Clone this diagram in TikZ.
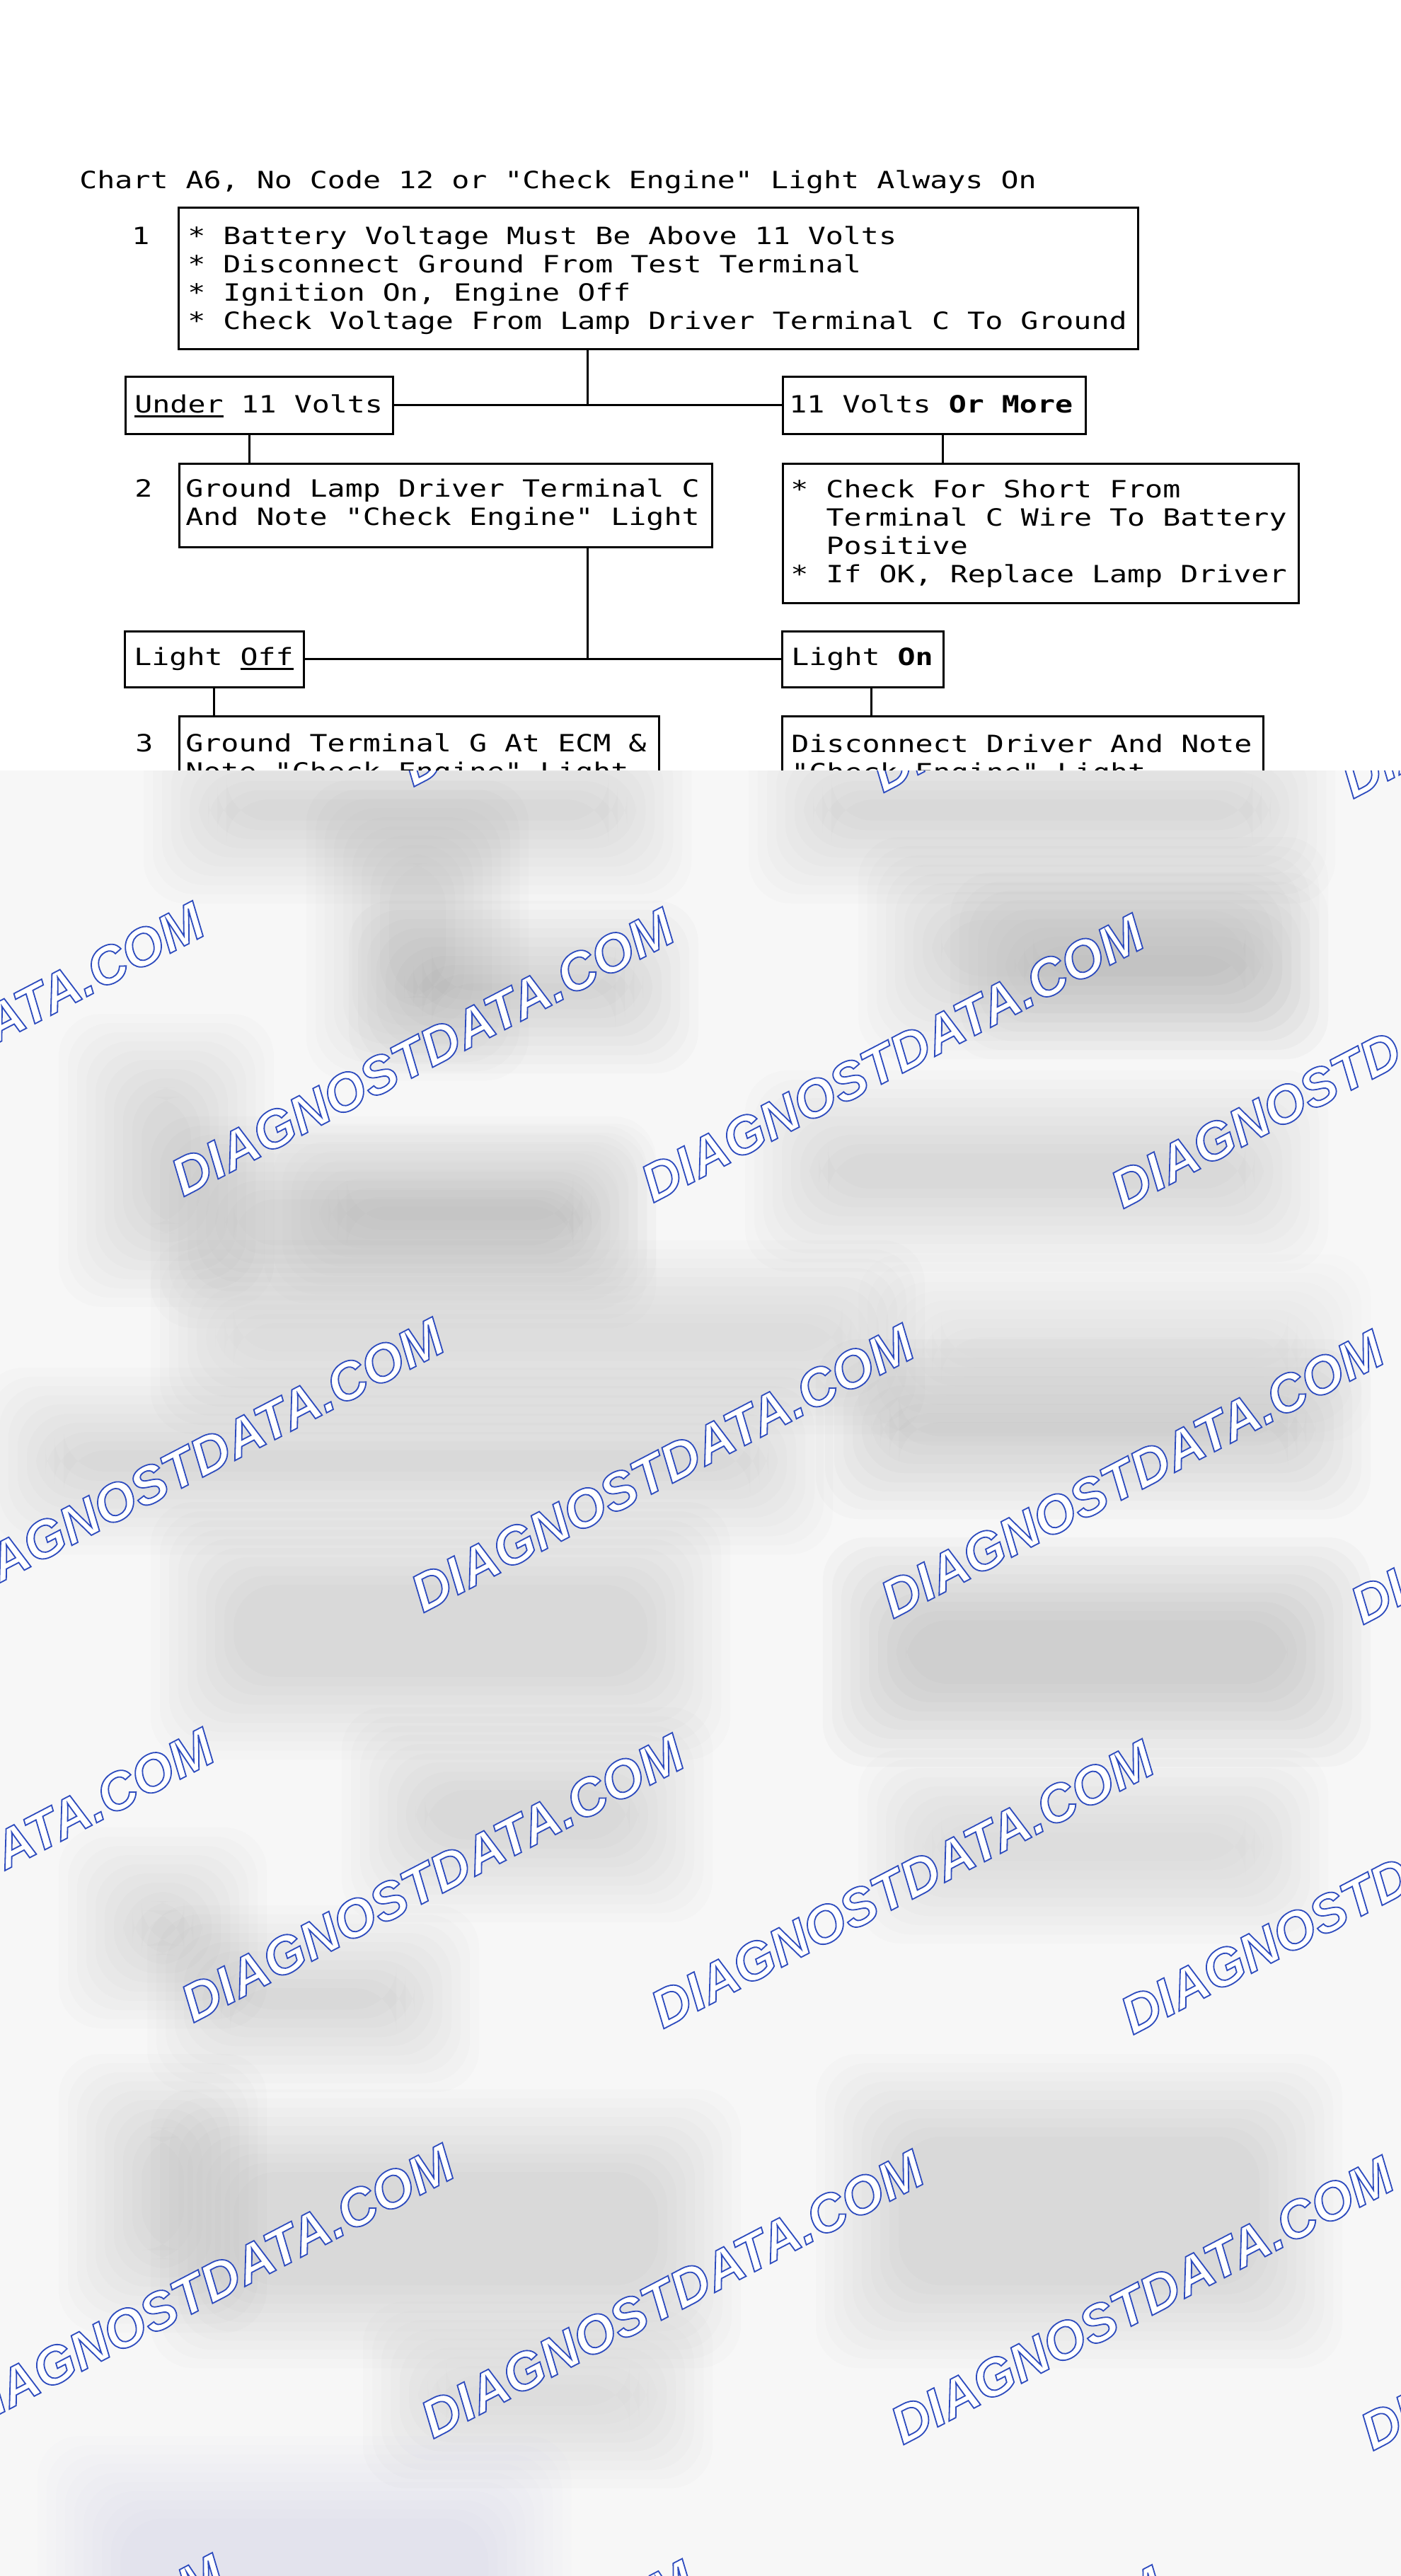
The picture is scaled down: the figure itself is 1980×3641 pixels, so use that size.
\documentclass[tikz,border=0pt]{standalone}
\usepackage{fontspec}
\newfontfamily\mono[FakeStretch=1.238]{DejaVu Sans Mono}
\newfontfamily\wmfont{Liberation Sans}
\definecolor{wmblue}{RGB}{45,75,190}
\definecolor{basegray}{RGB}{247,247,247}
\definecolor{blobblue}{RGB}{150,175,235}
\newsavebox\ulbox
\newcommand\ulin[1]{\sbox\ulbox{#1}\rlap{\rule[-3.3pt]{\wd\ulbox}{1.5pt}}\usebox\ulbox}
\newcommand\outl[1]{\special{pdf:literal direct 1 Tr 0.9 w}#1\special{pdf:literal direct 0 Tr}}
\newcommand\blurbox[5]{%
  \foreach \k in {0,...,9}{%
    \fill[gray, opacity=#5, rounded corners=30pt] ({#1-\k*13},{#2-\k*13}) rectangle ({#3+\k*13},{#4+\k*13});
  }}
\tikzset{
  box/.style={draw=black, line width=1.5pt, inner sep=0pt, rectangle},
  link/.style={draw=black, line width=1.5pt},
  txt/.style={font=\mono\fontsize{16.8pt}{20pt}\selectfont, inner sep=0pt, anchor=base west},
  wm/.style={rotate=27.5, inner sep=0pt, font=\wmfont\bfseries\itshape\fontsize{37.5pt}{40pt}\selectfont}
}
\begin{document}
\begin{tikzpicture}[x=0.5pt, y=-0.5pt]
\useasboundingbox (0,0) rectangle (1980,3641);
\fill[white] (0,0) rectangle (1980,3641);

% title
\node[txt] (title) at (112,266) {Chart A6, No Code 12 or "Check Engine" Light Always On};

% step 1
\node[txt] (n1) at (186,345) {1};
\node[box, minimum width=678pt, minimum height=100pt] (b1) at (930,393) {};
\node[txt] (b1t) at (265,345) {\vtop{%
  \hbox{* Battery Voltage Must Be Above 11 Volts}
  \hbox{* Disconnect Ground From Test Terminal}
  \hbox{* Ignition On, Engine Off}
  \hbox{* Check Voltage From Lamp Driver Terminal C To Ground}}};

\node[box, minimum width=189pt, minimum height=40.5pt] (under) at (366,572.5) {};
\node[txt] (undert) at (190,583) {\ulin{Under} 11 Volts};
\node[box, minimum width=214pt, minimum height=40.5pt] (more) at (1320,572.5) {};
\node[txt] (moret) at (1115,583) {11 Volts \textbf{Or More}};

\coordinate (j1) at (830,572.5);
\draw[link] (b1.south -| j1) -- (j1);
\draw[link] (under.east) -- (more.west);

% step 2
\node[txt] (n2) at (190,702) {2};
\node[box, minimum width=376.5pt, minimum height=59pt] (b2) at (629.5,714) {};
\node[txt] (b2t) at (262,702) {\vtop{%
  \hbox{Ground Lamp Driver Terminal C}
  \hbox{And Note "Check Engine" Light}}};
\node[box, minimum width=364.5pt, minimum height=98.5pt] (r1) at (1470.5,753.5) {};
\node[txt] (r1t) at (1117,703) {\vtop{%
  \hbox{* Check For Short From}
  \hbox{\phantom{**}Terminal C Wire To Battery}
  \hbox{\phantom{**}Positive}
  \hbox{* If OK, Replace Lamp Driver}}};

\coordinate (c2x) at (352,640);
\coordinate (c3x) at (1332,640);
\draw[link] (under.south -| c2x) -- (b2.north -| c2x);
\draw[link] (more.south -| c3x) -- (r1.north -| c3x);

\node[box, minimum width=126.5pt, minimum height=39.5pt] (off) at (302.5,931.5) {};
\node[txt] (offt) at (189,940) {Light \ulin{Off}};
\node[box, minimum width=114pt, minimum height=39.5pt] (on) at (1219,931.5) {};
\node[txt] (ont) at (1118,940) {Light \textbf{On}};

\coordinate (j2) at (830,931.5);
\draw[link] (b2.south -| j2) -- (j2);
\draw[link] (off.east) -- (on.west);

% step 3
\node[txt] (n3) at (191,1062) {3};
\node[box, minimum width=339pt, minimum height=94pt] (b3) at (592,1106) {};
\node[txt] (b3t) at (262,1062) {\vtop{%
  \hbox{Ground Terminal G At ECM \&}
  \hbox{Note "Check Engine" Light}}};
\node[box, minimum width=340pt, minimum height=94pt] (b4) at (1445,1106) {};
\node[txt] (b4t) at (1118,1063) {\vtop{%
  \hbox{Disconnect Driver And Note}
  \hbox{"Check Engine" Light}}};

\coordinate (c5x) at (1231,990);
\draw[link] (off.south) -- (b3.north -| off.south);
\draw[link] (on.south -| c5x) -- (b4.north -| c5x);

% blurred lower part
\begin{scope}
\clip (0,1089) rectangle (1980,3641);
\fill[basegray] (0,1089) rectangle (1980,3641);
\blurbox{320}{1130}{860}{1160}{0.022}
\blurbox{1175}{1130}{1770}{1160}{0.022}
\blurbox{550}{1220}{630}{1410}{0.025}
\blurbox{610}{1390}{870}{1400}{0.03}
\blurbox{1330}{1300}{1760}{1380}{0.025}
\blurbox{1460}{1350}{1760}{1380}{0.025}
\blurbox{200}{1550}{270}{1730}{0.025}
\blurbox{330}{1695}{810}{1760}{0.025}
\blurbox{490}{1705}{810}{1725}{0.02}
\blurbox{1170}{1630}{1760}{1680}{0.025}
\blurbox{330}{1870}{1190}{1910}{0.02}
\blurbox{1330}{1890}{1820}{1920}{0.016}
\blurbox{90}{2050}{1060}{2080}{0.022}
\blurbox{1270}{2010}{1820}{2030}{0.03}
\blurbox{330}{2240}{915}{2370}{0.025}
\blurbox{1280}{2290}{1820}{2380}{0.035}
\blurbox{600}{2530}{890}{2600}{0.025}
\blurbox{200}{2700}{260}{2750}{0.025}
\blurbox{1330}{2590}{1760}{2630}{0.02}
\blurbox{325}{2810}{560}{2840}{0.025}
\blurbox{200}{3020}{260}{3180}{0.022}
\blurbox{330}{3070}{930}{3230}{0.022}
\blurbox{1270}{3020}{1780}{3230}{0.025}
\blurbox{630}{3370}{890}{3400}{0.02}
\foreach \k in {0,...,9}{%
  \fill[blobblue, opacity=0.018, rounded corners=30pt] ({170-\k*13},{3560-\k*13}) rectangle ({690+\k*13},{3700+\k*13});
}
\foreach \j in {-1,...,4}{%
  \foreach \i in {-4,...,3}{%
    \node[wm] (wm\i\j) at ({597+\i*664+\j*339},{1487+\i*8.5+\j*588})
      {\rlap{\color{white}DIAGNOSTDATA.COM}{\color{wmblue}\outl{DIAGNOSTDATA.COM}}};
  }}
\end{scope}
\end{tikzpicture}
\end{document}
